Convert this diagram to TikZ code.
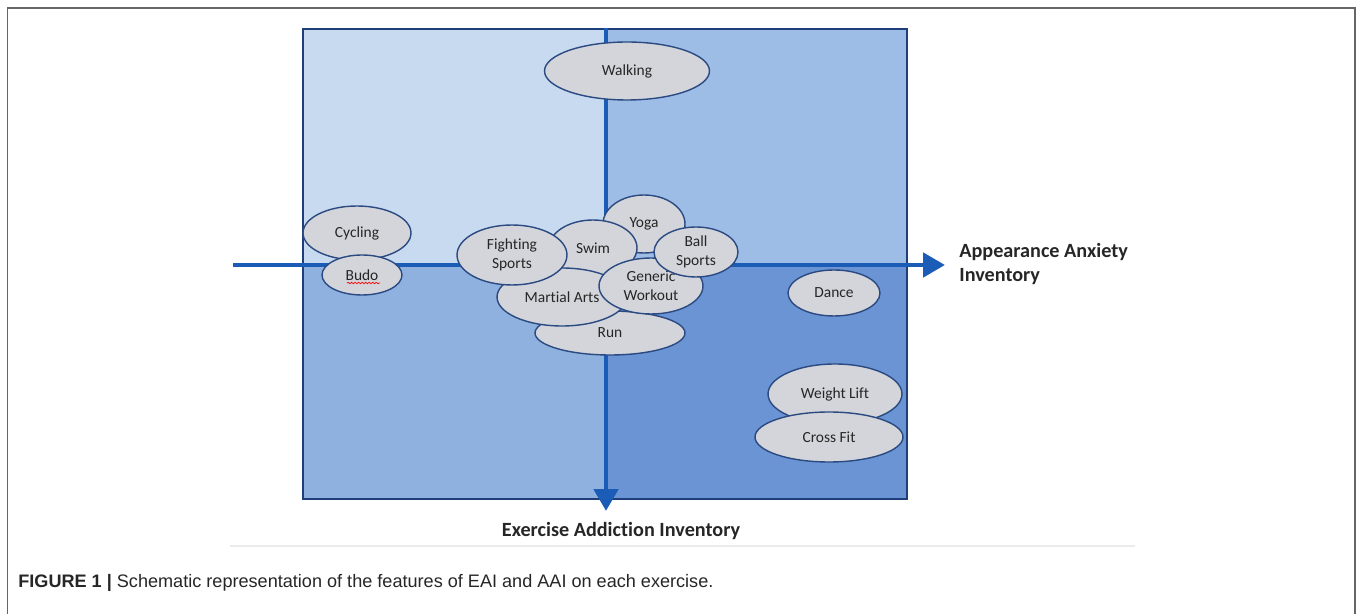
\documentclass[tikz,border=0pt]{standalone}
\usepackage{fontspec}
\setmainfont{Carlito}[Ligatures=NoCommon]
\newfontfamily\capfont{Liberation Sans}
\usetikzlibrary{shapes,arrows.meta,decorations.pathmorphing}
\definecolor{qtl}{HTML}{C8DAF0}
\definecolor{qtr}{HTML}{9EBDE6}
\definecolor{qbl}{HTML}{8FB1DF}
\definecolor{qbr}{HTML}{6A94D3}
\definecolor{axisblue}{HTML}{1B5CB6}
\definecolor{boxline}{HTML}{1F3F7A}
\definecolor{exedge}{HTML}{2B4A82}
\definecolor{exfill}{HTML}{D3D5DA}

\begin{document}
\begin{tikzpicture}[x=0.02cm, y=-0.02cm]
\tikzstyle{ex}=[ellipse, draw=exedge, fill=exfill, line width=0.8pt, inner sep=0pt,
  align=center, text=black!85, font=\fontsize{8.8}{11}\selectfont]
\tikzstyle{axis}=[-{Triangle[length=0.44cm,width=0.48cm]}, line width=2.8pt, draw=axisblue]
\tikzstyle{axlabel}=[inner sep=0pt, text=black!85, font=\fontsize{11.5}{13.6}\selectfont\bfseries]
\useasboundingbox (0,0) rectangle (1357,614);
% outer frame
\draw[black!60, line width=1.1pt] (7.5,630) -- (7.5,8) -- (1355,8) -- (1355,630);
\draw[black!8, line width=0.6pt] (230,546) -- (1135,546);
% quadrants
\fill[qtl] (303,29) rectangle (606,265);
\fill[qtr] (606,29) rectangle (907,265);
\fill[qbl] (303,265) rectangle (606,499);
\fill[qbr] (606,265) rectangle (907,499);
\draw[boxline, line width=0.8pt] (303,29) rectangle (907,499);
% axes
\coordinate (xfrom) at (233,265);
\coordinate (xto)   at (945,265);
\coordinate (yfrom) at (606,28);
\coordinate (yto)   at (606,511);
\draw[axis] (xfrom) -- (xto);
\draw[axis] (yfrom) -- (yto);
\node[axlabel, anchor=west, align=left] (AAI) at (959,264) {Appearance Anxiety\\Inventory};
\node[axlabel] (EAI) at (621,531) {Exercise Addiction Inventory};
% exercises
\node[ex, minimum width=3.30cm, minimum height=1.16cm] (walk)  at (627,71)  {Walking};
\node[ex, minimum width=2.16cm, minimum height=1.08cm] (cycl)  at (357,233) {Cycling};
\node[ex, minimum width=1.60cm, minimum height=0.80cm] (budo)  at (362,275) {Budo};
\node[ex, minimum width=3.00cm, minimum height=0.88cm] (run)   at (610,333) {Run};
\node[ex, minimum width=1.64cm, minimum height=1.16cm] (yoga)  at (644,224) {Yoga};
\node[ex, minimum width=1.76cm, minimum height=1.12cm] (swim)  at (593,248) {Swim};
\node[ex, minimum width=2.60cm, minimum height=1.16cm] (mart)  at (562,297) {Martial Arts};
\node[ex, minimum width=2.20cm, minimum height=1.20cm] (fight) at (512,255) {Fighting\\Sports};
\node[ex, minimum width=2.08cm, minimum height=1.12cm] (gen)   at (651,286) {Generic\\Workout};
\node[ex, minimum width=1.68cm, minimum height=1.00cm] (ball)  at (696,252) {Ball\\Sports};
\node[ex, minimum width=1.84cm, minimum height=0.92cm] (dance) at (834,293) {Dance};
\node[ex, minimum width=2.68cm, minimum height=1.20cm] (wlift) at (835,394) {Weight Lift};
\node[ex, minimum width=2.96cm, minimum height=1.00cm] (cross) at (829,437) {Cross Fit};
\draw[red, line width=0.4pt, decorate, decoration={snake, amplitude=0.4pt, segment length=2pt}]
  (347,283) -- (380,283);
% caption
\node[anchor=base west, inner sep=0pt, text=black!85, font=\capfont\fontsize{10.3}{12}\selectfont]
  (caption) at (18,588) {{\bfseries FIGURE 1 |} Schematic representation of the features of EAI and AAI on each exercise.};
\end{tikzpicture}
\end{document}
